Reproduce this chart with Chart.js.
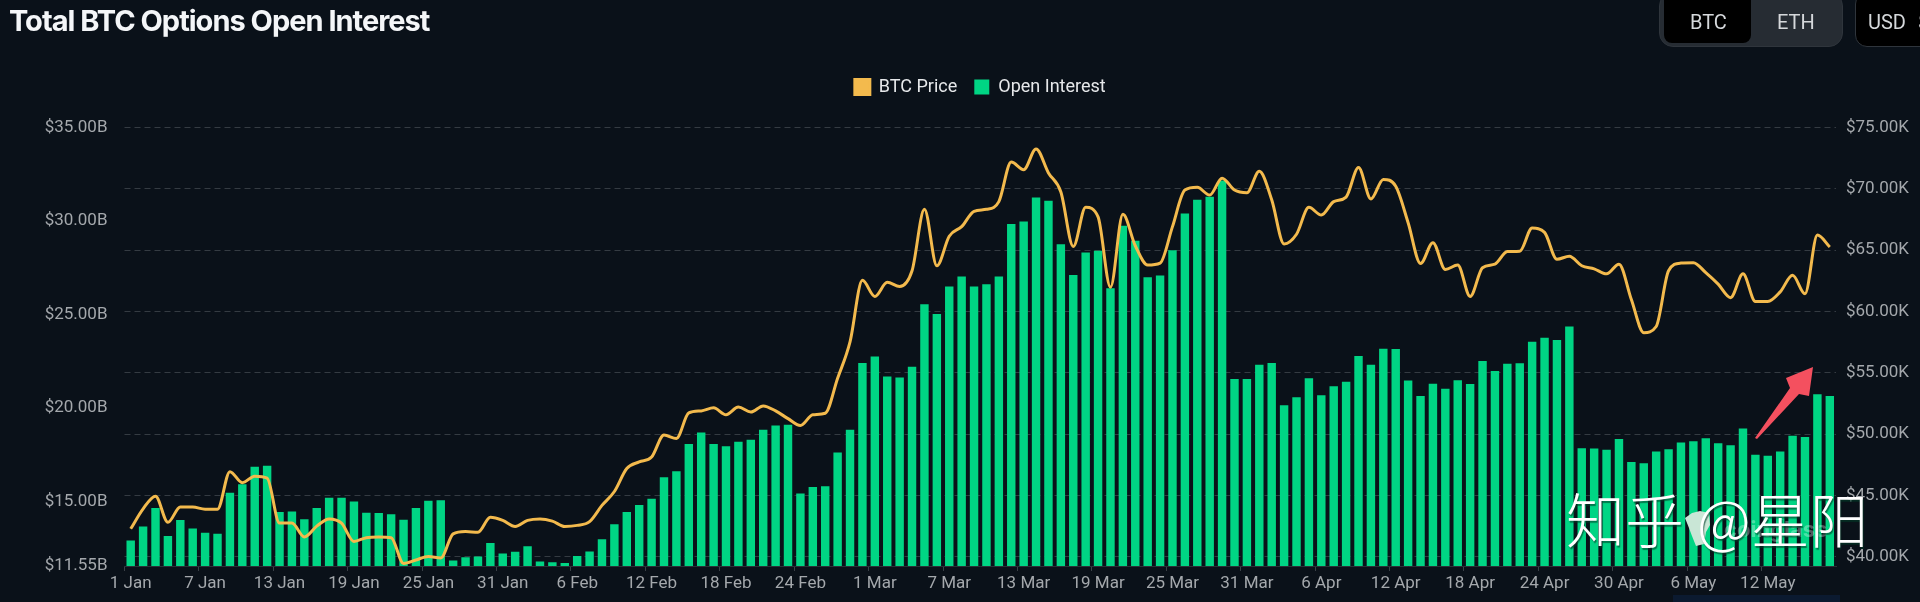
<!DOCTYPE html>
<html>
<head>
<meta charset="utf-8">
<script src="https://cdn.jsdelivr.net/npm/chart.js@4/dist/chart.umd.min.js"></script>
<style>
  html, body { margin: 0; padding: 0; background: #0a1119; }
  #wrap { position: relative; width: 1920px; height: 602px; overflow: hidden; background: #0a1119; }
  #chart { position: absolute; left: 0; top: 0; }
  .title { position: absolute; left: 9px; top: 3px; font: 700 29px Inter, sans-serif; letter-spacing: -1px; color: #f4f6f8; white-space: nowrap; }
  .toggle { position: absolute; left: 1659px; top: -8px; width: 184px; height: 55px; background: #262c33; border: 1px solid #2f353c; border-radius: 14px; box-sizing: border-box; }
  .toggle .on { position: absolute; left: 4px; top: 0; width: 87px; height: 50px; background: #000; border-radius: 8px; }
  .toggle span { position: absolute; top: 17px; font: 20px Roboto, sans-serif; color: #d5d8db; }
  .usd { position: absolute; left: 1855px; top: -8px; width: 90px; height: 55px; background: #000; border: 1px solid #2f353c; border-radius: 12px; box-sizing: border-box; font: 20px Roboto, sans-serif; color: #d5d8db; padding: 17px 0 0 12px; white-space: nowrap; word-spacing: 7px; }
  .mark { position: absolute; left: 1566px; top: 475px; font: 300 59px "Noto Sans CJK SC", sans-serif; color: #fff; white-space: nowrap; text-shadow: 1px 2px 1px rgba(0,60,40,.6); }
  .logo { position: absolute; left: 1724px; top: 516px; font: 700 22px Inter, sans-serif; color: rgba(255,255,255,.3); }
  .strip { position: absolute; left: 1673px; top: 595px; width: 167px; height: 7px; background: #0b1a30; }
  svg { position: absolute; left: 0; top: 0; }
</style>
</head>
<body>
<div id="wrap">
  <canvas id="chart" width="1920" height="602"></canvas>
  <div class="title">Total BTC Options Open Interest</div>
  <div class="toggle"><div class="on"></div><span style="left:30px">BTC</span><span style="left:117px">ETH</span></div>
  <div class="usd">USD $</div>
  <div class="strip"></div>
  <svg width="1920" height="602">
    <polygon points="1755,438 1790,388 1786,378 1813,367 1809,396 1799,394 1757,439" fill="#f4505f"/>
    <polygon points="1685,518 1692,513 1700,511 1709,513 1710,525 1706,532 1704,544 1696,546 1692,536 1689,528" fill="#c9e6d6"/>
  </svg>
  <div class="logo">coinglass</div>
  <div class="mark">知乎 @星阳</div>
</div>
<script>
const tickLabels = ['1 Jan','7 Jan','13 Jan','19 Jan','25 Jan','31 Jan','6 Feb','12 Feb','18 Feb','24 Feb','1 Mar','7 Mar','13 Mar','19 Mar','25 Mar','31 Mar','6 Apr','12 Apr','18 Apr','24 Apr','30 Apr','6 May','12 May']
const monthNames = ['Jan','Feb','Mar','Apr','May']
const monthDays = [31,29,31,30,17]

const categories = []
monthNames.forEach((m, k) => {
  for (let d = 1; d <= monthDays[k]; d++) categories.push(d + ' ' + m)
})

const openInterest = [
  12.92,13.66,14.65,13.15,14.01,13.56,13.33,13.27,15.47,15.92,16.86,16.91,14.44,14.46,14.05,14.65,15.20,15.20,15.00,14.40,14.38,14.32,14.03,14.65,15.04,15.06,
  11.85,12.02,12.06,12.78,12.22,12.31,12.61,11.79,11.75,11.71,12.08,12.33,12.98,13.78,14.44,14.81,15.14,16.29,16.62,18.08,18.69,18.08,17.95,18.20,18.30,18.84,19.06,19.10,
  15.43,15.78,15.82,17.62,18.84,22.41,22.76,21.69,21.63,22.20,25.55,25.02,26.50,27.03,26.50,26.62,27.03,29.84,29.97,31.26,31.08,28.76,27.11,28.32,28.41,26.41,29.74,28.94,26.99,27.09,28.43,30.40,31.14,31.30,32.17,
  21.55,21.55,22.31,22.41,20.15,20.58,21.59,20.68,21.16,21.40,22.78,22.31,23.17,23.15,21.47,20.64,21.30,21.03,21.49,21.28,22.51,21.98,22.37,22.39,23.54,23.75,23.64,24.36,
  17.85,17.83,17.77,18.34,17.11,17.05,17.67,17.79,18.16,18.22,18.38,18.12,18.01,18.90,17.50,17.44,17.67,18.51,18.45,20.73,20.64
]

const btcPrice = [
  42.29,43.92,44.95,42.82,44.07,44.07,43.89,43.89,46.95,46.05,46.58,46.42,42.76,42.76,41.63,42.51,43.10,42.76,41.26,41.57,41.63,41.57,39.47,39.75,40.04,39.91,
  41.88,42.07,42.01,43.23,42.98,42.48,42.98,43.10,42.92,42.48,42.57,42.88,44.20,45.33,47.20,47.74,48.14,49.93,49.65,51.74,51.90,52.15,51.59,52.21,51.81,52.31,51.90,51.27,
  50.71,51.59,51.71,54.56,57.53,62.54,61.23,62.38,62.04,63.32,68.33,63.73,66.14,66.92,68.17,68.33,68.96,72.18,71.56,73.25,71.30,69.74,65.30,68.49,67.71,61.98,67.92,65.36,63.79,63.95,66.92,69.90,70.12,69.49,70.87,
  69.90,69.68,71.43,69.11,65.51,66.30,68.49,67.86,68.96,69.33,71.74,69.18,70.77,70.21,67.24,63.92,65.61,63.42,63.79,61.23,63.57,63.86,64.89,64.92,66.80,66.45,64.26,64.51,
  63.73,63.48,63.07,63.86,60.98,58.28,58.78,63.32,63.95,63.98,63.17,62.23,61.13,63.07,60.82,60.82,61.60,62.95,61.45,66.23,65.26
]

const oiTicks = [11.55,15,20,25,30,35]
const priceTicks = [40,45,50,55,60,65,70,75]

const tickFont = {family: 'Roboto, sans-serif', size: 17}
const tickColor = '#a4a8ac'

// keep the legend's row where it is but push the plot area down under it
const legendGap = {
  id: 'legendGap',
  beforeInit(chart) {
    const fit = chart.legend.fit
    chart.legend.fit = function () {
      fit.call(this)
      this.height = 66.5
    }
  }
}

new Chart(document.getElementById('chart'), {
  type: 'bar',
  plugins: [legendGap],
  data: {
    labels: categories,
    datasets: [
      {
        type: 'line',
        label: 'BTC Price',
        data: btcPrice,
        yAxisID: 'price',
        borderColor: '#f3ba4d',
        backgroundColor: '#f3ba4d',
        borderWidth: 3,
        pointRadius: 0,
        cubicInterpolationMode: 'monotone',
        order: 1
      },
      {
        label: 'Open Interest',
        data: openInterest,
        yAxisID: 'oi',
        backgroundColor: '#00d584',
        borderWidth: 0,
        categoryPercentage: 1,
        barPercentage: 0.68,
        order: 2
      }
    ]
  },
  options: {
    responsive: false,
    animation: false,
    layout: {padding: {top: 61, bottom: 0, left: 0, right: 0}},
    plugins: {
      tooltip: {enabled: false},
      legend: {
        position: 'top',
        align: 'center',
        fullSize: false,
        labels: {
          color: '#e6e8ea',
          font: {family: 'Roboto, sans-serif', size: 18},
          boxWidth: 15,
          boxHeight: 15,
          padding: 17
        }
      }
    },
    scales: {
      x: {
        grid: {
          drawOnChartArea: false,
          tickLength: 5,
          color: ctx => (ctx.index % 6 === 0 ? '#3a4047' : 'transparent')
        },
        border: {color: '#2b3138'},
        ticks: {
          color: tickColor,
          font: tickFont,
          maxRotation: 0,
          autoSkip: false,
          padding: 3,
          callback(value) {
            const label = this.getLabelForValue(value)
            return tickLabels.includes(label) ? label : ''
          }
        },
        afterFit(s) { s.height = 36 }
      },
      oi: {
        position: 'left',
        min: 11.55,
        max: 35,
        grid: {display: false},
        border: {display: false},
        afterBuildTicks(s) { s.ticks = oiTicks.map(v => ({value: v})) },
        ticks: {
          color: tickColor,
          font: tickFont,
          padding: 9,
          callback: v => '$' + v.toFixed(2) + 'B'
        },
        afterFit(s) { s.width = 124.5 }
      },
      price: {
        position: 'right',
        min: 39.26,
        max: 75,
        grid: {
          color: '#343b42',
          drawTicks: false
        },
        border: {display: false, dash: [6, 4]},
        afterBuildTicks(s) { s.ticks = priceTicks.map(v => ({value: v})) },
        ticks: {
          color: tickColor,
          font: tickFont,
          padding: 10,
          callback: v => '$' + v.toFixed(2) + 'K'
        },
        afterFit(s) { s.width = 84 }
      }
    }
  }
})
</script>
</body>
</html>
